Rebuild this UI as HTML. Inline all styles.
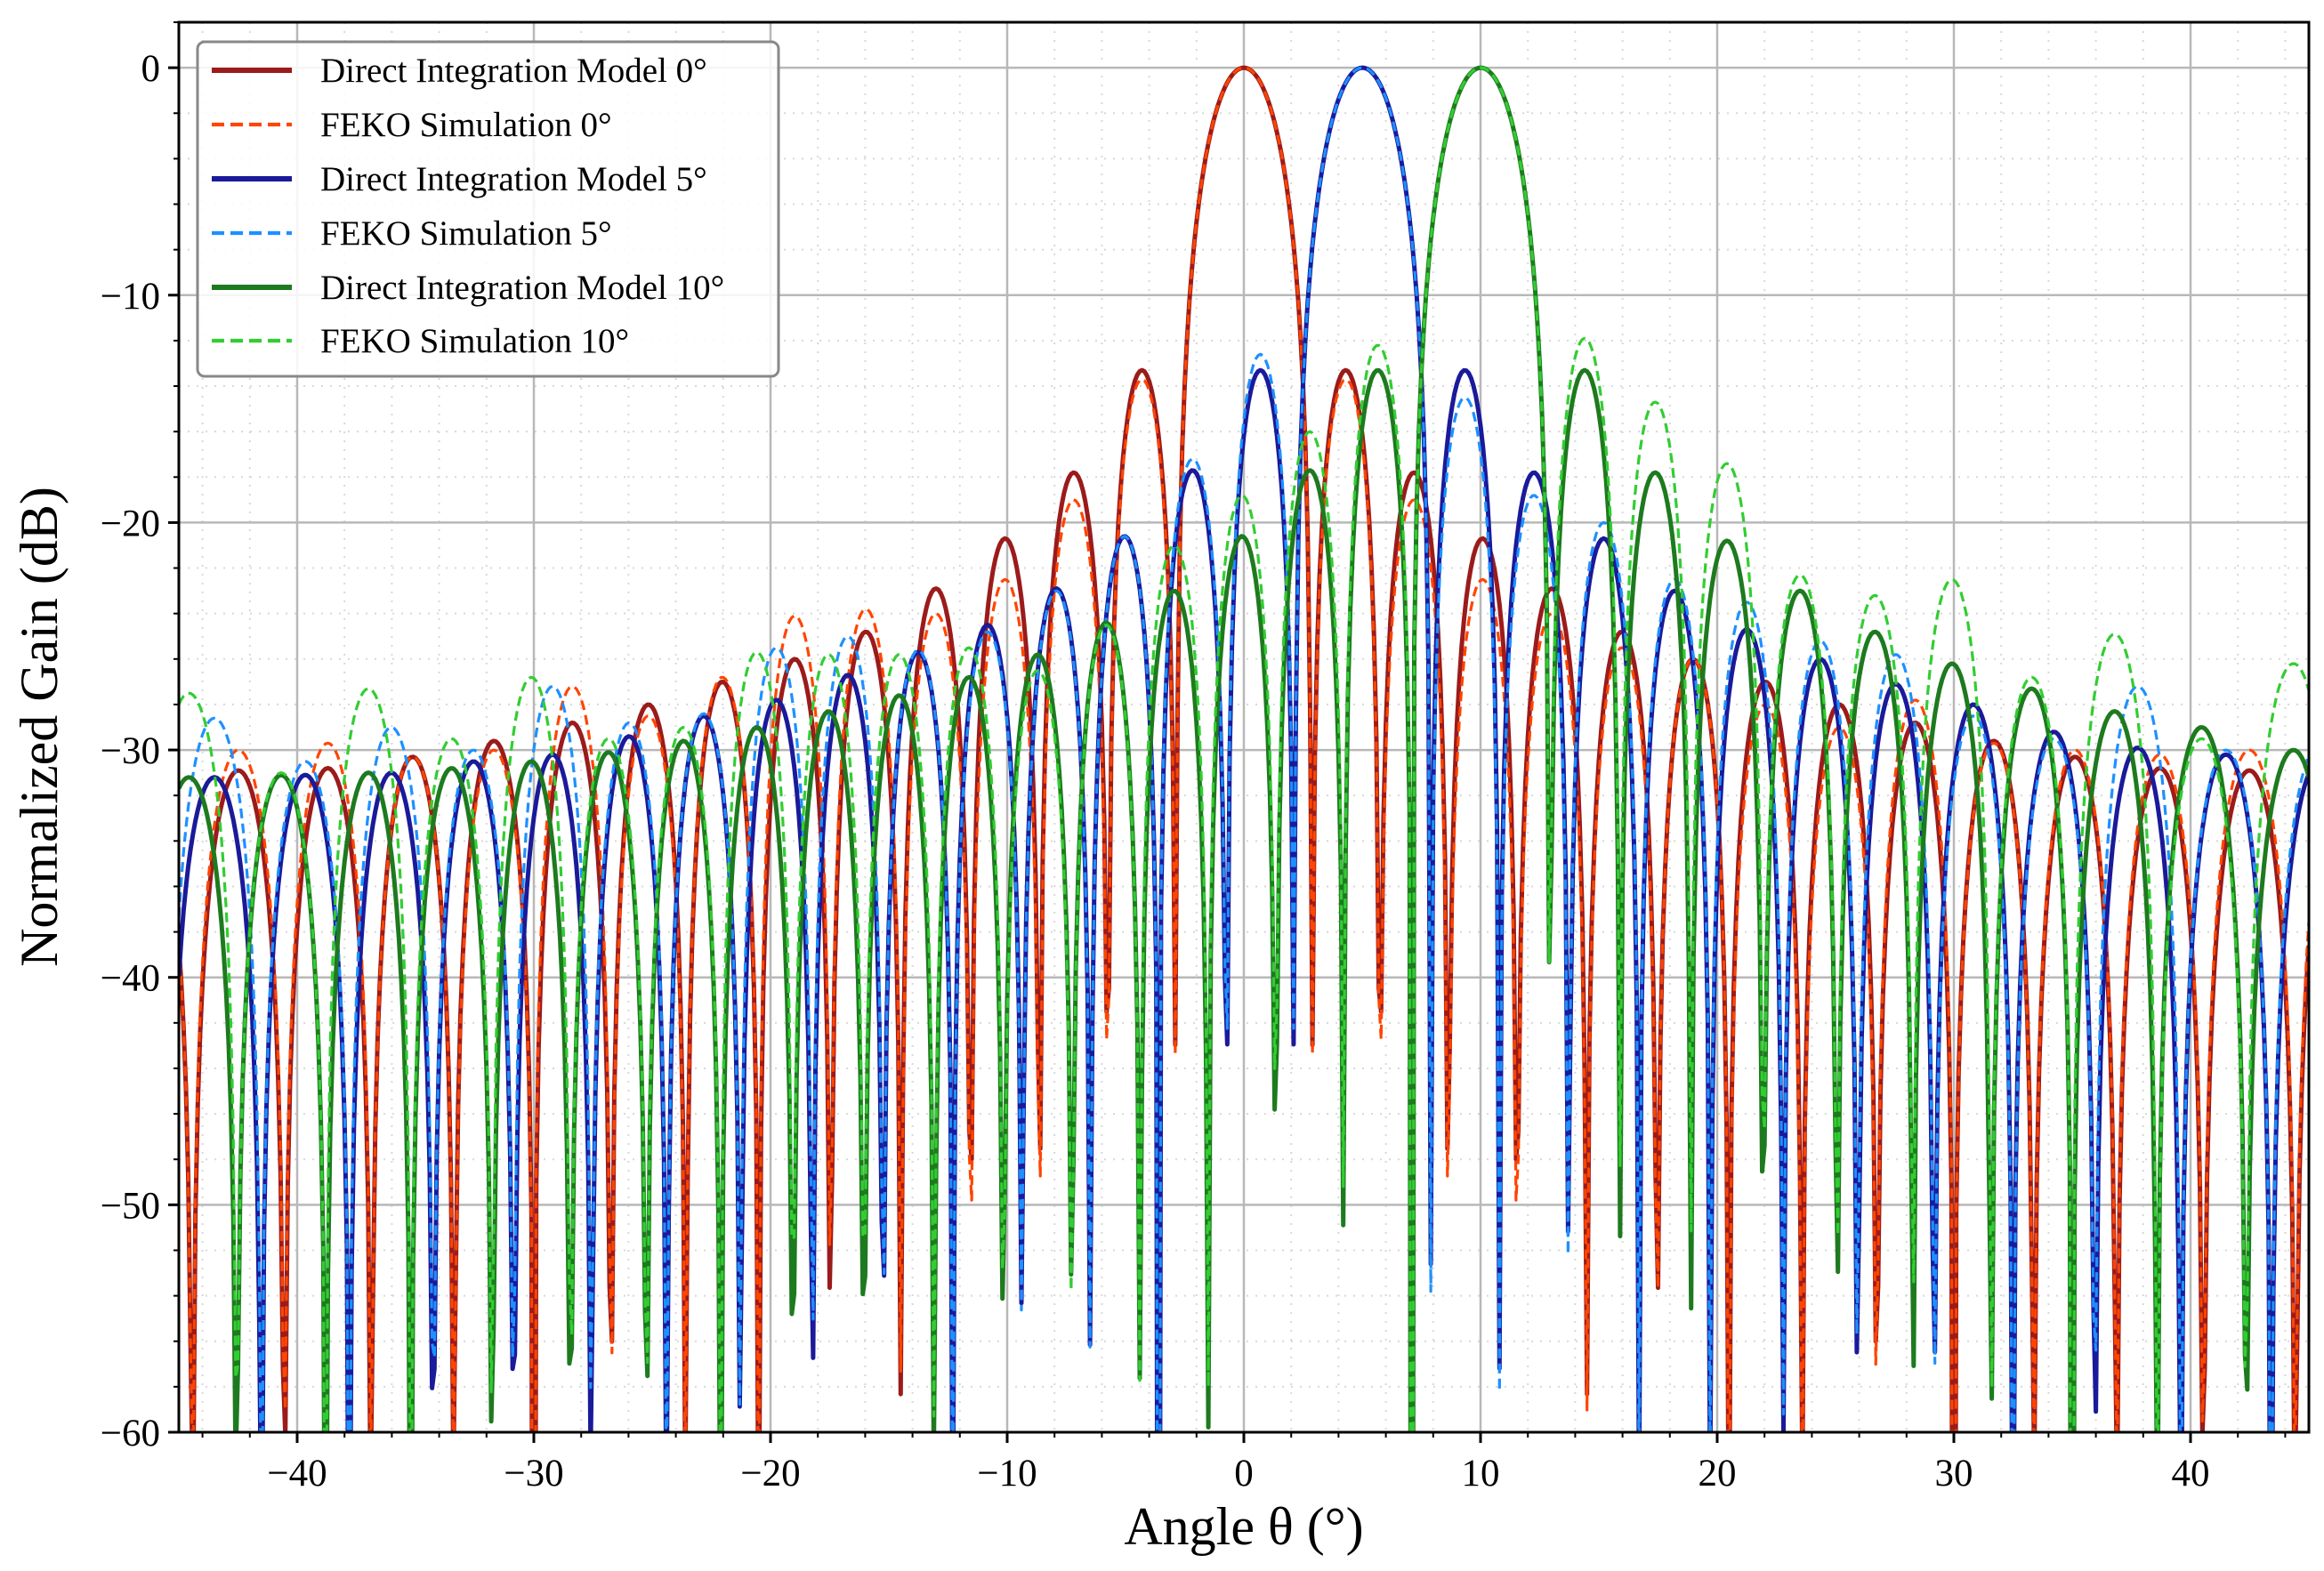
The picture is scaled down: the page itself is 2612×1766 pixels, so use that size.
<!DOCTYPE html>
<html><head><meta charset="utf-8">
<style>
html,body{margin:0;padding:0;background:#fff;width:2612px;height:1766px;overflow:hidden;}
svg{display:block;font-family:"Liberation Serif","DejaVu Serif",serif;}
</style></head>
<body>
<svg id="chart" width="2612" height="1766" viewBox="0 0 2612 1766" xmlns="http://www.w3.org/2000/svg">
<defs><clipPath id="plotclip"><rect x="201" y="25" width="2394" height="1585"/></clipPath></defs>
<rect x="0" y="0" width="2612" height="1766" fill="#fff"/>
<g id="grid"></g>
<g id="series" clip-path="url(#plotclip)"></g>
<g id="axes"></g>
<text x="1398" y="1736" text-anchor="middle" font-size="60">Angle θ (°)</text>
<text transform="translate(64,817) rotate(-90)" text-anchor="middle" font-size="60">Normalized Gain (dB)</text>
<g id="legend">
<rect x="222" y="47" width="653" height="376" rx="8" fill="#fff" fill-opacity="0.85" stroke="#888" stroke-width="3"/>
</g>
</svg>
<script>
// ---- data ----
const xTicks = [-40,-30,-20,-10,0,10,20,30,40];
const yTicks = [0,-10,-20,-30,-40,-50,-60];
const legendLabels = ["Direct Integration Model 0°","FEKO Simulation 0°","Direct Integration Model 5°","FEKO Simulation 5°","Direct Integration Model 10°","FEKO Simulation 10°"];
// null angles (deg) for each steering
const nulls0 = [-48.59,-44.43,-40.54,-36.87,-33.37,-30.00,-26.74,-23.58,-20.49,-17.46,-14.48,-11.54,-8.63,-5.74,-2.87,2.87,5.74,8.63,11.54,14.48,17.46,20.49,23.58,26.74,30.00,33.37,36.87,40.54,44.43,48.59];
const nulls5 = [-45.47,-41.52,-37.79,-34.25,-30.85,-27.57,-24.38,-21.27,-18.23,-15.24,-12.29,-9.37,-6.48,-3.60,-0.73,2.13,7.89,10.79,13.72,16.69,19.71,22.78,25.93,29.16,32.49,35.96,39.58,43.41,47.5];
const nulls10 = [-46.59,-42.56,-38.79,-35.19,-31.76,-28.45,-25.24,-22.11,-19.05,-16.05,-13.08,-10.16,-7.26,-4.38,-1.51,1.35,4.22,7.10,12.92,15.88,18.88,21.94,25.06,28.27,31.57,35.00,38.58,42.35,46.35];
// lobe peak levels (dB) between consecutive nulls
const model0 = [-31.0,-30.9,-30.8,-30.3,-29.6,-28.8,-28.0,-27.0,-26.0,-24.8,-22.9,-20.7,-17.8,-13.3,0,-13.3,-17.8,-20.7,-22.9,-24.8,-26.0,-27.0,-28.0,-28.8,-29.6,-30.3,-30.8,-30.9,-31.0];
const feko0 = [-31.0,-30.0,-29.7,-30.3,-30.0,-27.2,-28.5,-26.8,-24.1,-23.8,-24.0,-22.5,-19.0,-13.7,0,-13.7,-19.0,-22.5,-24.0,-25.5,-26.0,-28.0,-29.0,-27.8,-29.7,-30.0,-30.2,-30.0,-30.0];
const model5 = [-31.2,-31.1,-31.0,-30.5,-30.2,-29.4,-28.5,-27.8,-26.7,-25.7,-24.5,-22.9,-20.6,-17.7,-13.3,0,-13.3,-17.8,-20.7,-23.0,-24.7,-26.0,-27.1,-28.0,-29.2,-29.9,-30.2,-30.5];
const feko5 = [-28.6,-30.5,-29.0,-30.0,-27.2,-28.8,-28.4,-25.5,-25.0,-25.6,-24.8,-23.0,-20.6,-17.2,-12.6,0,-14.5,-18.8,-20.0,-22.5,-23.5,-25.2,-25.8,-28.5,-29.5,-27.2,-30.0,-29.7];
const model10 = [-31.2,-31.1,-31.0,-30.8,-30.5,-30.1,-29.6,-29.0,-28.3,-27.6,-26.8,-25.8,-24.4,-23.0,-20.6,-17.7,-13.3,0,-13.3,-17.8,-20.8,-23.0,-24.8,-26.2,-27.3,-28.3,-29.0,-30.0];
const feko10 = [-27.5,-31.0,-27.3,-29.5,-26.8,-29.5,-29.0,-25.7,-25.8,-25.8,-25.5,-26.5,-24.5,-21.0,-18.8,-16.0,-12.2,0,-11.9,-14.7,-17.4,-22.3,-23.2,-22.5,-26.8,-24.9,-29.5,-26.2];

const NS="http://www.w3.org/2000/svg";
const X0=201,X1=2595,Y0=25,Y1=1610;
const xMin=-45,xMax=45,yMin=-60,yMax=2;
const sx=v=>X0+(v-xMin)/(xMax-xMin)*(X1-X0);
const sy=v=>Y1-(v-yMin)/(yMax-yMin)*(Y1-Y0);
function mk(tag,attrs,parent){const e=document.createElementNS(NS,tag);for(const k in attrs)e.setAttribute(k,attrs[k]);parent.appendChild(e);return e;}

const grid=document.getElementById('grid');
for(let v=-44;v<=44;v+=2){ if(v%10===0)continue;
  const l=mk('line',{x1:sx(v),x2:sx(v),y1:Y0,y2:Y1,stroke:'#d8d8d8','stroke-width':2,'stroke-dasharray':'2,8'},grid);
  
  
}
for(let v=-58;v<=2;v+=2){ if(v%10===0)continue;
  const l=mk('line',{x1:X0,x2:X1,y1:sy(v),y2:sy(v),stroke:'#d8d8d8','stroke-width':2,'stroke-dasharray':'2,8'},grid);
  
  
}
xTicks.forEach(v=>{const l=mk('line',{x1:sx(v),x2:sx(v),y1:Y0,y2:Y1,stroke:'#b8b8b8','stroke-width':2.5},grid);
  
  });
yTicks.forEach(v=>{const l=mk('line',{x1:X0,x2:X1,y1:sy(v),y2:sy(v),stroke:'#b8b8b8','stroke-width':2.5},grid);
  
  });

function pattern(nulls,levels){
  const pts=[];
  for(let i=0;i<=900;i++){
    const x=-45+i*0.1;
    let y=-100;
    for(let j=0;j<nulls.length-1;j++){
      if(x>=nulls[j]&&x<=nulls[j+1]){
        const t=(x-nulls[j])/(nulls[j+1]-nulls[j]);
        const s=Math.sin(Math.PI*t);
        y=levels[j]+20*Math.log10(Math.max(s,1e-5));
        break;
      }
    }
    pts.push([sx(x),sy(Math.max(y,-100))]);
  }
  return pts.map((p,i)=>(i?'L':'M')+p[0].toFixed(1)+','+p[1].toFixed(1)).join('');
}
const seriesG=document.getElementById('series');
const defs=[
 {n:nulls0,l:model0,c:'#9b1b1b',w:5,d:null,name:'line-model-0deg'},
 {n:nulls0,l:feko0,c:'#ff4500',w:3.2,d:'11,6',name:'line-feko-0deg'},
 {n:nulls5,l:model5,c:'#1a1a9a',w:5,d:null,name:'line-model-5deg'},
 {n:nulls5,l:feko5,c:'#1e90ff',w:3.2,d:'11,6',name:'line-feko-5deg'},
 {n:nulls10,l:model10,c:'#1e7a1e',w:5,d:null,name:'line-model-10deg'},
 {n:nulls10,l:feko10,c:'#32cd32',w:3.2,d:'11,6',name:'line-feko-10deg'}];
defs.forEach(s=>{
  const p=mk('path',{d:pattern(s.n,s.l),fill:'none',stroke:s.c,'stroke-width':s.w,'stroke-linejoin':'round'},seriesG);
  if(s.d)p.setAttribute('stroke-dasharray',s.d);
  
  
});

const axes=document.getElementById('axes');
const fr=mk('rect',{x:X0,y:Y0,width:X1-X0,height:Y1-Y0,fill:'none',stroke:'#000','stroke-width':3},axes);


xTicks.forEach(v=>{
  mk('line',{x1:sx(v),x2:sx(v),y1:Y1,y2:Y1+12,stroke:'#000','stroke-width':3},axes);
  const t=mk('text',{x:sx(v),y:1670,'text-anchor':'middle','font-size':43},axes);
  t.textContent=(v<0?'\u2212':'')+Math.abs(v);
  
  
});
for(let v=-44;v<=44;v+=2){ if(v%10===0)continue; mk('line',{x1:sx(v),x2:sx(v),y1:Y1,y2:Y1+6,stroke:'#000','stroke-width':2},axes);}
yTicks.forEach(v=>{
  mk('line',{x1:X0-12,x2:X0,y1:sy(v),y2:sy(v),stroke:'#000','stroke-width':3},axes);
  const t=mk('text',{x:180,y:sy(v)+15,'text-anchor':'end','font-size':43},axes);
  t.textContent=(v<0?'\u2212':'')+Math.abs(v);
  
  
});
for(let v=-58;v<=2;v+=2){ if(v%10===0)continue; mk('line',{x1:X0-6,x2:X0,y1:sy(v),y2:sy(v),stroke:'#000','stroke-width':2},axes);}

const leg=document.getElementById('legend');
const rowY=[79,140,201,262,323,383];
defs.forEach((s,i)=>{
  const l=mk('line',{x1:238,x2:328,y1:rowY[i],y2:rowY[i],stroke:s.c,'stroke-width':s.w+1},leg);
  if(s.d)l.setAttribute('stroke-dasharray','14,7');
  
  
  const t=mk('text',{x:360,y:rowY[i]+13,'font-size':39},leg);
  t.textContent=legendLabels[i];
  
  
});
</script>
</body></html>
